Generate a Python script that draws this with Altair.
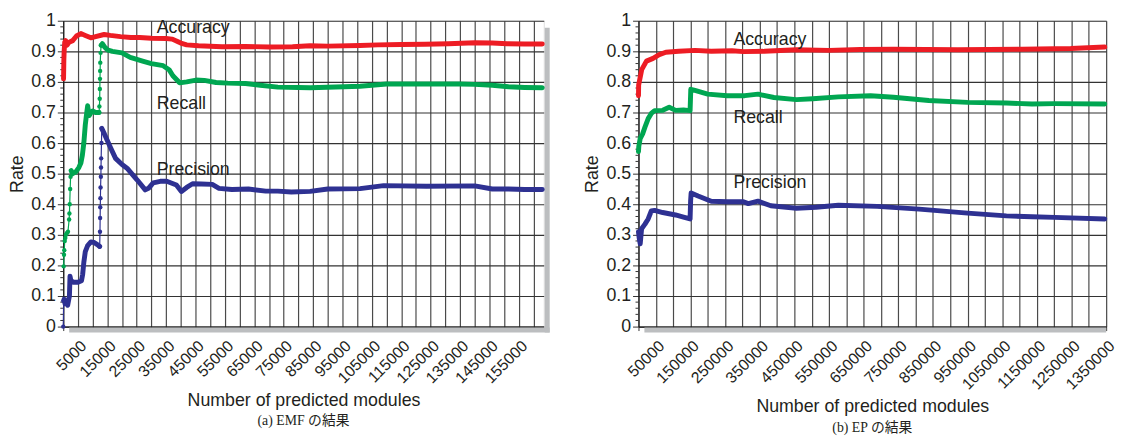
import altair as alt
import pandas as pd

METRICS = ["Accuracy", "Recall", "Precision"]
COLORS = ["#ED1C24", "#00A651", "#2E3192"]

# ---------------- (a) EMF ----------------
EMF_ACC_X = [100, 200, 300, 500, 800, 1300, 2000, 3200, 4500, 6000, 7500, 9400, 11000, 13900, 16000,
             19500, 23000, 26000, 30000, 35000, 37000, 38500, 40000, 42000, 46000, 54000, 62000, 70000,
             78000, 84000, 90000, 101000, 107000, 115000, 123000, 131000, 140000, 146000, 151000,
             157000, 163000]
EMF_ACC = [0.81, 0.87, 0.90, 0.93, 0.935, 0.92, 0.93, 0.935, 0.95, 0.958, 0.952, 0.944, 0.948, 0.955,
           0.952, 0.948, 0.945, 0.945, 0.943, 0.942, 0.94, 0.934, 0.927, 0.921, 0.918, 0.915, 0.916,
           0.914, 0.915, 0.918, 0.917, 0.919, 0.921, 0.922, 0.923, 0.925, 0.928, 0.927, 0.925, 0.924,
           0.924]

EMF_REC_RISE_X = [150, 250, 350, 500, 700, 900, 1200, 1600, 2000, 2100, 2200, 2350, 2500, 2700]
EMF_REC_RISE = [0.197, 0.235, 0.25, 0.28, 0.29, 0.30, 0.305, 0.31, 0.35, 0.37, 0.40, 0.45, 0.49, 0.51]
EMF_REC_MID_X = [2700, 3200, 4200, 5300, 6000, 6500, 7000, 7500, 8000, 8300, 8800, 9500, 10000,
                 11000, 12200]
EMF_REC_MID = [0.51, 0.50, 0.505, 0.52, 0.535, 0.56, 0.60, 0.66, 0.70, 0.722, 0.69, 0.70, 0.705,
               0.70, 0.70]
EMF_REC_JUMP_X = [12200, 12300, 12400, 12450, 12500, 12550, 12600, 12700, 12900]
EMF_REC_JUMP = [0.70, 0.72, 0.745, 0.777, 0.81, 0.836, 0.863, 0.895, 0.92]
EMF_REC_TAIL_X = [12900, 13300, 14000, 15000, 16700, 20000, 22800, 24500, 27000, 30000, 34000, 36000,
                  37300, 39600, 42000, 45200, 48000, 52000, 56000, 62000, 67000, 73000, 80000, 84000,
                  95600, 101000, 110000, 123000, 135000, 140000, 146000, 151500, 157000, 163000]
EMF_REC_TAIL = [0.92, 0.925, 0.915, 0.905, 0.90, 0.895, 0.88, 0.875, 0.868, 0.86, 0.853, 0.84, 0.82,
                0.797, 0.80, 0.806, 0.805, 0.798, 0.796, 0.795, 0.789, 0.783, 0.782, 0.781, 0.784,
                0.786, 0.793, 0.793, 0.793, 0.792, 0.789, 0.784, 0.782, 0.781]

EMF_PRE_START_X = [0, 150]
EMF_PRE_START = [0.0, 0.085]
EMF_PRE_LOW_X = [150, 300, 600, 1000, 1500, 1800, 2100, 2300, 2600, 3500, 5000, 6200, 6600, 7000,
                 7500, 8300, 9400, 10500, 11600, 12400]
EMF_PRE_LOW = [0.085, 0.09, 0.075, 0.08, 0.07, 0.085, 0.10, 0.165, 0.15, 0.145, 0.145, 0.15, 0.17,
               0.21, 0.245, 0.265, 0.277, 0.275, 0.268, 0.262]
EMF_PRE_JUMP_X = [12400, 12500, 12550, 12600, 12650, 12700, 12800, 12850, 12900, 13000, 13100]
EMF_PRE_JUMP = [0.262, 0.31, 0.355, 0.39, 0.42, 0.455, 0.49, 0.52, 0.55, 0.60, 0.648]
EMF_PRE_TAIL_X = [13100, 14000, 16100, 17800, 20000, 21700, 25100, 27900, 29000, 30600, 33000, 35200,
                  38500, 40200, 42000, 44000, 47000, 50700, 53000, 57400, 63000, 68900, 73000, 77600,
                  84000, 90000, 101000, 109000, 123600, 140000, 146000, 151500, 157000, 163000]
EMF_PRE_TAIL = [0.648, 0.63, 0.585, 0.55, 0.53, 0.518, 0.48, 0.447, 0.452, 0.47, 0.475, 0.475, 0.463,
                0.442, 0.455, 0.467, 0.466, 0.465, 0.452, 0.448, 0.45, 0.443, 0.443, 0.44, 0.442, 0.45,
                0.451, 0.461, 0.459, 0.46, 0.45, 0.45, 0.448, 0.448]

EMF_XMAX = 163500
EMF_GRID = list(range(0, 160001, 5000))
EMF_LABEL_POS = [(31800, 0.975), (31800, 0.727), (31800, 0.512)]

# ---------------- (b) EP ----------------
EP_ACC_X = [0, 500, 2800, 9300, 23000, 42000, 60000, 79000, 116000, 163000, 210000, 270000, 303000,
            363000, 456000, 550000, 640000, 736000, 830000, 922000, 1010000, 1108000, 1248000, 1346000]
EP_ACC = [0.755, 0.79, 0.803, 0.84, 0.868, 0.877, 0.889, 0.897, 0.90, 0.903, 0.90, 0.902, 0.899, 0.90,
          0.905, 0.903, 0.906, 0.907, 0.906, 0.905, 0.906, 0.907, 0.909, 0.914]
EP_REC_X = [0, 1000, 5000, 12000, 18700, 28000, 37000, 46600, 70000, 88600, 107000, 130000, 149000,
            151000, 163000, 200000, 256000, 307000, 345000, 391000, 456000, 503000, 577000, 670000,
            736000, 838000, 950000, 1062000, 1136000, 1201000, 1346000]
EP_REC = [0.572, 0.59, 0.615, 0.63, 0.652, 0.68, 0.697, 0.706, 0.707, 0.717, 0.707, 0.708, 0.706,
          0.776, 0.772, 0.76, 0.755, 0.755, 0.76, 0.749, 0.742, 0.745, 0.751, 0.755, 0.75, 0.739,
          0.733, 0.731, 0.728, 0.729, 0.728]
EP_PRE_X = [0, 2000, 5000, 9000, 18700, 28000, 37000, 46600, 70000, 107000, 130000, 149000, 150500,
            152000, 172000, 210000, 256000, 303000, 317000, 345000, 382000, 456000, 512000, 577000,
            689000, 810000, 950000, 1062000, 1136000, 1201000, 1346000]
EP_PRE = [0.31, 0.29, 0.271, 0.32, 0.335, 0.352, 0.378, 0.38, 0.373, 0.365, 0.358, 0.352, 0.411, 0.437,
          0.427, 0.41, 0.408, 0.408, 0.402, 0.41, 0.395, 0.387, 0.39, 0.397, 0.393, 0.384, 0.371,
          0.362, 0.359, 0.357, 0.352]

EP_XMAX = 1350000
EP_GRID = list(range(0, 1350001, 50000))
EP_LABEL_POS = [(274000, 0.937), (274000, 0.681), (274000, 0.468)]

Y_TICKS = [round(i * 0.1, 1) for i in range(11)]
Y_MINOR = [round(i * 0.02, 2) for i in range(51) if i % 5 != 0]

FONT = "Liberation Sans, Arial, Helvetica, sans-serif"
TXT = "#231f20"


def build_rows(pieces):
    rows = []
    i = 0
    for metric, piece, sparse, xs, ys in pieces:
        for xv, yv in zip(xs, ys):
            rows.append({"metric": metric, "piece": piece, "sparse": sparse, "x": xv, "y": yv, "i": i})
            i += 1
    return pd.DataFrame(rows)


def panel(df, xmax, grid, label_mod, label_pos, caption, width, height, left_shadow):
    color = alt.Color("metric:N", scale=alt.Scale(domain=METRICS, range=COLORS), legend=None)
    xscale = alt.Scale(domain=[0, xmax], nice=False, zero=True)
    yscale = alt.Scale(domain=[0, 1], nice=False)
    x_axis = alt.Axis(
        values=grid, labelExpr=f"(datum.value % {2 * label_mod} == {label_mod}) ? '' + datum.value : ''",
        labelAngle=-45, labelFontSize=16, labelFont=FONT, labelColor=TXT, labelOverlap=False,
        labelFlush=False, labelPadding=7, tickSize=4, tickColor="#333", domainColor="#111",
        gridColor="#4a4a4a", gridWidth=1.2, title="Number of predicted modules", titleFontSize=18,
        titleFont=FONT, titleFontWeight="normal", titleColor=TXT, titlePadding=6)
    y_axis = alt.Axis(
        values=Y_TICKS, format=".1~f", labelFontSize=18, labelFont=FONT, labelColor=TXT,
        labelPadding=2, tickSize=6, tickColor="#333", domainColor="#111", gridColor="#333",
        gridWidth=1.2, title="Rate", titleFontSize=18, titleFont=FONT, titleFontWeight="normal",
        titleColor=TXT, titlePadding=4)
    X = alt.X("x:Q", scale=xscale, axis=x_axis, title="Number of predicted modules")
    Y = alt.Y("y:Q", scale=yscale, axis=y_axis, title="Rate")

    base = alt.Chart(df)
    thin = base.mark_line(strokeWidth=1.2).encode(x=X, y=Y, color=color, detail="metric:N", order="i:Q")
    thick = base.transform_filter("!datum.sparse").mark_line(
        strokeWidth=5, strokeCap="round", strokeJoin="round").encode(
        x=X, y=Y, color=color, detail="piece:N", order="i:Q")
    dots = base.transform_filter("datum.sparse").mark_circle(size=20, opacity=1).encode(
        x=X, y=Y, color=color)

    lab_df = pd.DataFrame({"x": [p[0] for p in label_pos], "y": [p[1] for p in label_pos],
                           "text": METRICS})
    labels = alt.Chart(lab_df).mark_text(align="left", baseline="middle", fontSize=18, font=FONT,
                                         color=TXT).encode(x=X, y=Y, text="text:N")

    minor = alt.Chart(pd.DataFrame({"y": Y_MINOR})).mark_rule(color="#333", strokeWidth=1).encode(
        y=Y, x=alt.value(-3), x2=alt.value(0))

    one = pd.DataFrame({"a": [0]})
    shadow_b = alt.Chart(one).mark_rect(color="#bcbec0").encode(
        x=alt.value(6), x2=alt.value(width + (6 if left_shadow else 0)),
        y=alt.value(height + 1), y2=alt.value(height + 6))
    layers = [thin, shadow_b, minor, thick, dots, labels]
    if left_shadow:
        shadow_r = alt.Chart(one).mark_rect(color="#bcbec0").encode(
            x=alt.value(width + 1), x2=alt.value(width + 6), y=alt.value(7), y2=alt.value(height + 6))
        layers.insert(2, shadow_r)
    return alt.layer(*layers).properties(
        width=width, height=height,
        title=alt.TitleParams(caption, orient="bottom", font="Liberation Serif, Noto Sans CJK JP",
                              fontSize=14, fontWeight="normal", color=TXT, offset=5, anchor="middle"))


emf_df = build_rows([
    ("Accuracy", "a0", False, EMF_ACC_X, EMF_ACC),
    ("Recall", "r0", True, EMF_REC_RISE_X, EMF_REC_RISE),
    ("Recall", "r1", False, EMF_REC_MID_X, EMF_REC_MID),
    ("Recall", "r2", True, EMF_REC_JUMP_X, EMF_REC_JUMP),
    ("Recall", "r3", False, EMF_REC_TAIL_X, EMF_REC_TAIL),
    ("Precision", "p0", True, EMF_PRE_START_X, EMF_PRE_START),
    ("Precision", "p1", False, EMF_PRE_LOW_X, EMF_PRE_LOW),
    ("Precision", "p2", True, EMF_PRE_JUMP_X, EMF_PRE_JUMP),
    ("Precision", "p3", False, EMF_PRE_TAIL_X, EMF_PRE_TAIL),
])
ep_df = build_rows([
    ("Accuracy", "a0", False, EP_ACC_X, EP_ACC),
    ("Recall", "r0", False, EP_REC_X, EP_REC),
    ("Precision", "p0", False, EP_PRE_X, EP_PRE),
])

left = panel(emf_df, EMF_XMAX, EMF_GRID, 5000, EMF_LABEL_POS, "(a) EMF の結果", 487, 310, True)
right = panel(ep_df, EP_XMAX, EP_GRID, 50000, EP_LABEL_POS, "(b) EP の結果", 474, 310, False)

chart = alt.hconcat(left, right, spacing=33).properties(
    padding={"left": 0, "top": 0, "right": 0, "bottom": 0}
).configure_view(stroke="#333", strokeWidth=1.2).configure(background="white")

chart.save("out.html", embed_options={"renderer": "svg", "actions": False})
